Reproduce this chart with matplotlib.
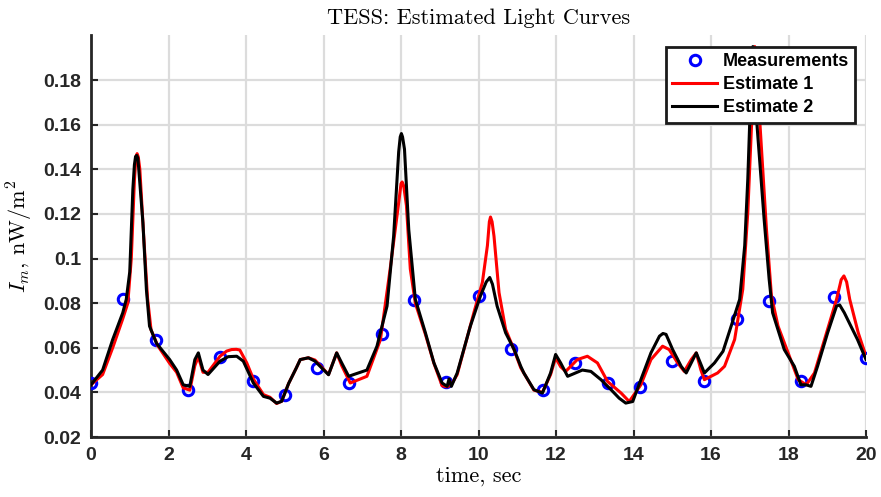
import matplotlib
matplotlib.use("Agg")
import matplotlib.pyplot as plt

# measurement samples
t_meas = [0.0, 0.83, 1.67, 2.5, 3.33, 4.17, 5.0, 5.83, 6.67, 7.5, 8.33, 9.17, 10.0,
          10.83, 11.67, 12.5, 13.33, 14.17, 15.0, 15.83, 16.67, 17.5, 18.33, 19.17, 20.0]
I_meas = [0.044, 0.082, 0.0633, 0.041, 0.056, 0.045, 0.039, 0.051, 0.044, 0.066, 0.0815,
          0.0445, 0.083, 0.0595, 0.041, 0.053, 0.044, 0.0425, 0.054, 0.045, 0.073, 0.081,
          0.045, 0.0828, 0.0555]

# estimate 1 (red)
t_est1 = [0.00, 0.30, 0.56, 0.82, 0.95, 1.04, 1.12, 1.16, 1.19, 1.22, 1.26, 1.36, 1.46,
          1.55, 1.72, 2.03, 2.21, 2.38, 2.55, 2.68, 2.77, 2.89, 3.02, 3.33, 3.50, 3.63,
          3.75, 3.84, 4.02, 4.19, 4.45, 4.62, 4.79, 4.92, 5.10, 5.30, 5.40, 5.61, 5.78,
          6.13, 6.34, 6.47, 6.69, 7.12, 7.47, 7.72, 7.94, 8.00, 8.03, 8.07, 8.14, 8.24,
          8.37, 8.63, 8.85, 9.06, 9.19, 9.30, 9.45, 9.88, 10.10, 10.23, 10.28, 10.31,
          10.35, 10.40, 10.53, 10.70, 10.92, 11.09, 11.43, 11.65, 11.86, 11.99, 12.12,
          12.25, 12.55, 12.81, 13.07, 13.33, 13.68, 13.89, 14.19, 14.45, 14.75, 14.92,
          15.14, 15.31, 15.49, 15.62, 15.74, 15.83, 16.17, 16.35, 16.61, 16.82, 16.95,
          17.05, 17.13, 17.26, 17.43, 17.56, 17.73, 17.99, 18.25, 18.46, 18.67, 18.93,
          19.24, 19.36, 19.43, 19.50, 19.58, 19.80, 20.00]
I_est1 = [0.0434, 0.048, 0.060, 0.073, 0.080, 0.100, 0.135, 0.1455, 0.147, 0.1455, 0.140,
          0.110, 0.082, 0.068, 0.061, 0.053, 0.049, 0.042, 0.041, 0.052, 0.056, 0.049,
          0.049, 0.0562, 0.0585, 0.0592, 0.0593, 0.059, 0.0532, 0.046, 0.039, 0.0378,
          0.035, 0.036, 0.044, 0.051, 0.0547, 0.0555, 0.0545, 0.048, 0.0577, 0.052,
          0.0442, 0.0472, 0.0637, 0.0953, 0.125, 0.1335, 0.1343, 0.1325, 0.1238, 0.0953,
          0.080, 0.066, 0.053, 0.043, 0.0425, 0.0435, 0.048, 0.0757, 0.0893, 0.1058,
          0.1165, 0.1186, 0.1165, 0.110, 0.0847, 0.0682, 0.059, 0.051, 0.041, 0.040,
          0.048, 0.0555, 0.0515, 0.0494, 0.0547, 0.0562, 0.0532, 0.0449, 0.0397, 0.0359,
          0.0434, 0.0547, 0.0607, 0.0592, 0.0532, 0.0494, 0.0547, 0.0577, 0.050, 0.0457,
          0.0487, 0.0517, 0.0637, 0.0862, 0.1208, 0.1613, 0.195, 0.1613, 0.1133, 0.0832,
          0.0697, 0.0577, 0.0457, 0.0434, 0.0487, 0.0637, 0.0817, 0.0905, 0.0922, 0.0895,
          0.0817, 0.0667, 0.0562]

# estimate 2 (black)
t_est2 = [0.00, 0.30, 0.56, 0.82, 0.91, 1.00, 1.08, 1.12, 1.15, 1.18, 1.21, 1.34, 1.43,
          1.51, 1.69, 2.03, 2.21, 2.38, 2.55, 2.68, 2.77, 2.89, 3.02, 3.33, 3.54, 3.76,
          3.93, 4.19, 4.45, 4.62, 4.79, 4.92, 5.10, 5.30, 5.40, 5.61, 5.78, 6.13, 6.34,
          6.47, 6.65, 6.78, 7.12, 7.38, 7.64, 7.81, 7.94, 7.98, 8.01, 8.04, 8.09, 8.20,
          8.37, 8.63, 8.85, 9.06, 9.19, 9.24, 9.30, 9.45, 9.79, 10.05, 10.20, 10.29, 10.36,
          10.48, 10.70, 10.92, 11.09, 11.17, 11.43, 11.65, 11.86, 11.99, 12.12, 12.30,
          12.68, 12.90, 13.16, 13.42, 13.63, 13.80, 13.98, 14.19, 14.45, 14.67, 14.76,
          14.84, 15.01, 15.23, 15.36, 15.62, 15.83, 16.09, 16.31, 16.52, 16.74, 16.87,
          16.95, 17.00, 17.08, 17.18, 17.37, 17.50, 17.59, 17.89, 18.15, 18.32, 18.45,
          18.58, 18.75, 19.01, 19.24, 19.32, 19.44, 19.78, 20.00]
I_est2 = [0.0434, 0.050, 0.0637, 0.0757, 0.0817, 0.094, 0.131, 0.142, 0.1457, 0.1462,
          0.145, 0.116, 0.086, 0.0697, 0.062, 0.0547, 0.050, 0.0434, 0.0427, 0.0547,
          0.0577, 0.050, 0.048, 0.054, 0.056, 0.0562, 0.054, 0.0442, 0.0382, 0.0374,
          0.0352, 0.036, 0.044, 0.051, 0.0547, 0.0555, 0.054, 0.0479, 0.0577, 0.0532,
          0.0472, 0.048, 0.050, 0.0607, 0.0787, 0.110, 0.1478, 0.1545, 0.156, 0.1545,
          0.149, 0.113, 0.0817, 0.0667, 0.0532, 0.0442, 0.0427, 0.046, 0.0427, 0.0487,
          0.0697, 0.0832, 0.0895, 0.0915, 0.0885, 0.0787, 0.0667, 0.0592, 0.0517, 0.0487,
          0.0412, 0.0397, 0.0487, 0.0570, 0.0532, 0.0472, 0.050, 0.0494, 0.0457, 0.0412,
          0.0374, 0.0352, 0.0359, 0.0457, 0.0577, 0.0652, 0.0664, 0.066, 0.0592, 0.0517,
          0.0487, 0.0577, 0.0487, 0.0532, 0.0584, 0.0697, 0.0817, 0.1058, 0.1358, 0.1614,
          0.195, 0.1614, 0.1178, 0.0908, 0.0757, 0.0592, 0.0517, 0.0434, 0.0434, 0.0427,
          0.0517, 0.0667, 0.0787, 0.0792, 0.0757, 0.0637, 0.0547]

x_ticks = [0, 2, 4, 6, 8, 10, 12, 14, 16, 18, 20]
y_ticks = [0.02, 0.04, 0.06, 0.08, 0.1, 0.12, 0.14, 0.16, 0.18]
y_tick_labels = ["0.02", "0.04", "0.06", "0.08", "0.1", "0.12", "0.14", "0.16", "0.18"]

plt.rcParams["mathtext.fontset"] = "cm"
plt.rcParams["font.family"] = ["Liberation Sans", "DejaVu Sans"]
plt.rcParams["axes.unicode_minus"] = False

axis_col = "#262626"
serif = ["cmr10", "DejaVu Serif"]

fig = plt.figure(figsize=(8.81, 4.97), dpi=100)
ax = fig.add_axes([91 / 881, 60 / 497, 775 / 881, 401.6 / 497])

ax.plot(t_meas, I_meas, linestyle="none", marker="o", markersize=7.5,
        markerfacecolor="none", markeredgecolor="#0000ff", markeredgewidth=2.2,
        label="Measurements", zorder=3)
ax.plot(t_est1, I_est1, color="#ff0000", linewidth=2.2, solid_joinstyle="round",
        label="Estimate 1", zorder=4)
ax.plot(t_est2, I_est2, color="#000000", linewidth=2.2, solid_joinstyle="round",
        label="Estimate 2", zorder=5)

ax.set_xlim(0, 20)
ax.set_ylim(0.02, 0.2)
ax.set_xticks(x_ticks)
ax.set_xticklabels([str(v) for v in x_ticks])
ax.set_yticks(y_ticks)
ax.set_yticklabels(y_tick_labels)

for lbl in ax.get_xticklabels() + ax.get_yticklabels():
    lbl.set_fontweight("bold")
    lbl.set_fontsize(14)
    lbl.set_color(axis_col)

ax.tick_params(direction="in", length=5, width=1.5, colors=axis_col, pad=7)
ax.grid(True, color="#dcdcdc", linewidth=1.6)
ax.set_axisbelow(True)

ax.spines["top"].set_visible(False)
ax.spines["right"].set_visible(False)
for s in ["left", "bottom"]:
    ax.spines[s].set_color(axis_col)
    ax.spines[s].set_linewidth(2)

ax.set_title("TESS: Estimated Light Curves", fontsize=16, pad=8, family=serif)
ax.set_xlabel("time, sec", fontsize=16, labelpad=2, family=serif)
ax.set_ylabel(r"$I_m$, nW/m$^2$", fontsize=16, labelpad=6, family=serif)

leg = ax.legend(loc="upper right", bbox_to_anchor=(0.986, 0.971), borderaxespad=0,
                fancybox=False, framealpha=1, edgecolor="#1a1a1a",
                prop={"weight": "bold", "size": 13}, handlelength=2.5,
                handletextpad=0.3, labelspacing=0.33, borderpad=0.35)
leg.get_frame().set_linewidth(2)
leg.set_zorder(10)

plt.savefig("out.png", dpi=100)
